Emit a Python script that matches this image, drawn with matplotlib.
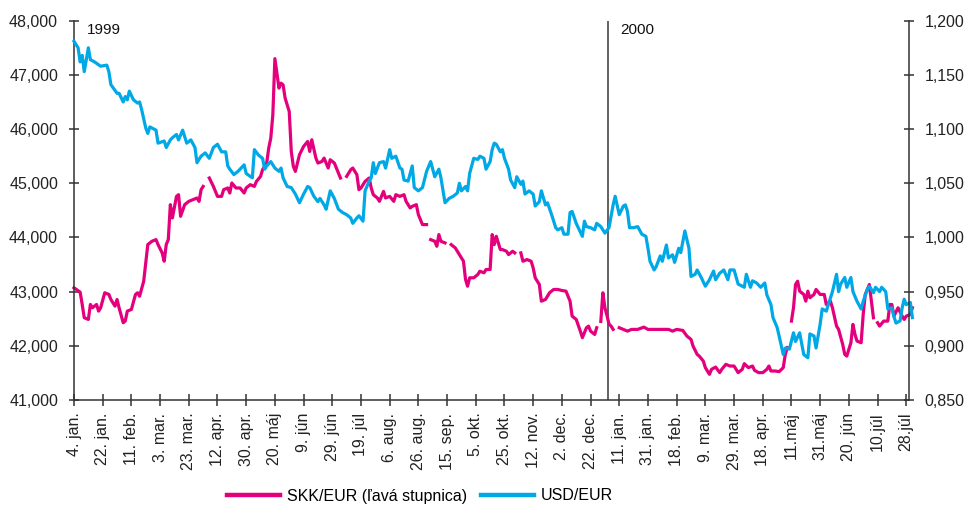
import numpy as np
import matplotlib
matplotlib.use("Agg")
import matplotlib.pyplot as plt

plt.rcParams['font.family'] = ['Liberation Sans', 'DejaVu Sans']

nan = np.nan

# trading-day index (0 = 4 Jan 1999) and SKK/EUR values
skk_day = [0, 3, 4, 5, 7, 8, 9, 11, 12, 13,
           15, 17, 18, 20, 21, 22, 24, 25, 26, 28,
           30, 31, 32, 34, 36, 38, 40, 41, 43, 44,
           45, 46, 47, 48, 50, 51, 52, 54, 56, 58,
           60, 61, 62, 63, 64, 66, 68, 70, 72, 73,
           75, 76, 77, 79, 81, 83, 84, 86, 88, 89,
           91, 92, 94, 95, 96, 97, 98, 100, 101, 102,
           103, 105, 106, 107, 108, 110, 112, 114, 115, 116,
           118, 119, 121, 122, 124, 125, 127, 128, 130, 131,
           133, 135, 136, 138, 139, 140, 142, 144, 145, 146,
           148, 149, 151, 152, 154, 156, 157, 159, 161, 162,
           164, 165, 167, 168, 170, 172, 173, 174, 176, 177,
           178, 179, 181, 182, 184, 186, 188, 190, 191, 192,
           193, 195, 197, 198, 200, 201, 203, 204, 205, 206,
           208, 209, 211, 212, 214, 215, 216, 218, 219, 221,
           223, 224, 225, 227, 228, 230, 232, 234, 236, 238,
           240, 242, 243, 244, 245, 247, 248, 250, 251, 252,
           254, 255, 256, 257, 258, 259, 260, 261, 262, 263,
           264, 266, 268, 270, 272, 275, 278, 280, 283, 287,
           290, 292, 294, 297, 299, 301, 302, 304, 305, 307,
           308, 310, 311, 313, 315, 316, 318, 320, 322, 324,
           326, 327, 329, 331, 332, 334, 336, 338, 339, 340,
           342, 344, 346, 347, 348, 349, 350, 351, 352, 353,
           354, 356, 357, 358, 359, 361, 362, 364, 366, 367,
           369, 370, 372, 373, 375, 376, 377, 379, 380, 381,
           382, 384, 385, 386, 388, 389, 390, 391, 392, 393,
           395, 397, 398, 399, 400, 402, 404, 405, 406, 408,
           409]
skk_val = [43071, 42990, 42763, 42518, 42487, 42763, 42702, 42763, 42640, 42702,
           42979, 42948, 42855, 42732, 42855, 42702, 42426, 42456, 42640, 42671,
           42948, 42979, 42916, 43192, 43868, 43929, 43960, 43868, 43715, 43561,
           43868, 43960, 44605, 44360, 44758, 44789, 44390, 44605, 44666, 44697,
           44728, 44666, 44881, 44942, nan, 45097, 44942, 44758, 44758, 44881,
           44913, 44820, 45005, 44913, 44913, 44820, 44913, 44974, 44942, 45034,
           45126, 45250, 45373, 45650, 45834, 46263, 47300, 46755, 46847, 46816,
           46571, 46324, 45587, 45311, 45219, 45526, 45679, 45771, 45587, 45803,
           45465, 45373, 45403, 45465, 45281, 45434, 45373, 45281, 45097, nan,
           45127, 45250, 45281, 45158, 44881, 44913, 45034, 45097, 44913, 44789,
           44728, 44666, 44850, 44728, 44758, 44666, 44789, 44758, 44789, 44666,
           44544, 44574, 44605, 44421, 44237, 44237, nan, 43960, 43929, 43837,
           44053, 43929, 43899, nan, 43868, 43807, 43684, 43561, 43224, 43100,
           43255, 43255, 43316, 43377, 43347, 43408, 43408, 44053, 43868, 44021,
           43776, 43776, 43745, 43684, 43745, 43715, nan, 43715, 43561, 43592,
           43561, 43439, 43255, 43132, 42824, 42855, 42979, 43040, 43040, 43021,
           43009, 42824, 42548, 42518, 42487, 42271, 42150, 42334, 42364, 42271,
           42210, 42334, nan, 42450, 42979, 42700, 42560, 42400, 42364, 42303,
           nan, 42334, 42303, 42271, 42303, 42303, 42345, 42303, 42303, 42303,
           42303, 42271, 42303, 42284, 42180, 42118, 41995, 41842, 41811, 41719,
           41597, 41474, 41566, 41608, 41505, 41566, 41658, 41627, 41627, 41505,
           41566, 41671, 41597, 41627, 41547, 41505, 41505, 41566, 41627, 41535,
           41535, 41524, 41597, 41842, 41966, nan, 42456, 42702, 43132, 43192,
           43009, 42948, 42824, 43009, 42887, 42948, 43040, 42948, 42948, 42763,
           42824, 42702, 42364, 42303, 42026, 41842, 41811, 42057, 42395, 42210,
           42087, 42057, 42579, 42948, 43132, 42824, 42518, nan, 42426, 42364,
           42456, 42456, 42763, 42763, 42548, 42702, 42548, 42487, 42548, 42579,
           42702]

# trading-day index and USD/EUR values
usd_day = [0, 2, 3, 4, 5, 7, 8, 10, 13, 16,
           17, 18, 21, 22, 24, 25, 26, 27, 29, 31,
           32, 33, 35, 36, 37, 40, 41, 44, 45, 47,
           48, 50, 51, 53, 55, 57, 59, 60, 62, 64,
           66, 68, 70, 72, 74, 75, 76, 78, 80, 81,
           83, 84, 87, 88, 90, 92, 93, 94, 96, 98,
           100, 101, 102, 104, 106, 108, 110, 112, 114, 115,
           117, 119, 120, 122, 123, 125, 127, 129, 131, 133,
           135, 136, 138, 139, 141, 142, 144, 145, 146, 147,
           149, 151, 152, 154, 155, 157, 159, 160, 161, 163,
           165, 166, 168, 170, 172, 174, 176, 178, 179, 181,
           183, 185, 187, 188, 189, 191, 192, 193, 195, 197,
           198, 200, 201, 203, 204, 205, 206, 208, 209, 210,
           212, 213, 215, 216, 218, 219, 220, 222, 224, 225,
           227, 228, 230, 231, 233, 235, 236, 238, 239, 241,
           242, 243, 245, 246, 248, 249, 250, 252, 254, 255,
           257, 258, 259, 261, 263, 264, 266, 268, 269, 270,
           271, 273, 275, 277, 279, 280, 281, 283, 284, 286,
           287, 289, 290, 292, 293, 295, 296, 298, 300, 301,
           303, 304, 306, 308, 310, 312, 313, 315, 317, 319,
           320, 322, 324, 326, 327, 328, 330, 331, 333, 335,
           337, 338, 340, 341, 343, 344, 346, 347, 349, 351,
           352, 354, 356, 358, 359, 361, 362, 364, 365, 367,
           368, 370, 372, 373, 374, 376, 377, 379, 380, 382,
           384, 385, 387, 388, 390, 391, 393, 394, 396, 397,
           399, 400, 401, 403, 404, 405, 406, 408, 409]
usd_rate = [1.181, 1.175, 1.162, 1.168, 1.153, 1.175, 1.164, 1.162, 1.158, 1.159,
            1.153, 1.141, 1.133, 1.133, 1.125, 1.130, 1.127, 1.135, 1.127, 1.124,
            1.125, 1.118, 1.101, 1.096, 1.102, 1.099, 1.087, 1.089, 1.083, 1.090,
            1.092, 1.095, 1.090, 1.099, 1.087, 1.090, 1.083, 1.069, 1.075, 1.078,
            1.073, 1.083, 1.086, 1.079, 1.079, 1.066, 1.063, 1.058, 1.061, 1.063,
            1.067, 1.059, 1.055, 1.081, 1.076, 1.073, 1.063, 1.066, 1.070, 1.064,
            1.061, 1.064, 1.055, 1.047, 1.046, 1.040, 1.032, 1.040, 1.047, 1.046,
            1.038, 1.033, 1.036, 1.030, 1.026, 1.043, 1.036, 1.026, 1.023, 1.021,
            1.018, 1.013, 1.018, 1.020, 1.015, 1.043, 1.052, 1.055, 1.069, 1.059,
            1.069, 1.070, 1.064, 1.081, 1.073, 1.075, 1.064, 1.063, 1.053, 1.052,
            1.066, 1.046, 1.043, 1.046, 1.061, 1.070, 1.056, 1.063, 1.055, 1.032,
            1.036, 1.038, 1.041, 1.050, 1.043, 1.047, 1.043, 1.059, 1.073, 1.072,
            1.075, 1.073, 1.063, 1.070, 1.081, 1.087, 1.086, 1.079, 1.081, 1.073,
            1.063, 1.053, 1.046, 1.056, 1.049, 1.052, 1.040, 1.043, 1.040, 1.029,
            1.033, 1.043, 1.030, 1.032, 1.021, 1.009, 1.007, 1.009, 1.003, 1.003,
            1.023, 1.024, 1.013, 1.009, 1.001, 1.015, 1.010, 1.009, 1.007, 1.013,
            1.010, 1.007, 1.004, 1.009, 1.030, 1.038, 1.021, 1.029, 1.030, 1.024,
            1.009, 1.009, 1.010, 1.003, 1.001, 0.990, 0.978, 0.970, 0.973, 0.983,
            0.978, 0.993, 0.981, 0.984, 0.977, 0.990, 0.986, 1.006, 0.990, 0.964,
            0.966, 0.970, 0.963, 0.955, 0.961, 0.969, 0.961, 0.967, 0.970, 0.961,
            0.970, 0.970, 0.957, 0.955, 0.954, 0.966, 0.954, 0.960, 0.958, 0.954,
            0.958, 0.947, 0.938, 0.926, 0.917, 0.909, 0.892, 0.898, 0.897, 0.912,
            0.904, 0.912, 0.892, 0.889, 0.911, 0.909, 0.898, 0.920, 0.934, 0.932,
            0.938, 0.950, 0.966, 0.950, 0.957, 0.963, 0.954, 0.963, 0.950, 0.941,
            0.934, 0.941, 0.952, 0.955, 0.949, 0.954, 0.950, 0.954, 0.950, 0.934,
            0.935, 0.927, 0.921, 0.923, 0.935, 0.943, 0.938, 0.940, 0.926]

xtick_labels = ['4. jan.', '22. jan.', '11. feb.', '3. mar.', '23. mar.', '12. apr.',
                '30. apr.', '20. máj', '9. jún', '29. jún', '19. júl', '6. aug.',
                '26. aug.', '15. sep.', '5. okt.', '25. okt.', '12. nov.', '2. dec.',
                '22. dec.', '11. jan.', '31. jan.', '18. feb.', '9. mar.', '29. mar.',
                '18. apr.', '11.máj', '31.máj', '20. jún', '10.júl', '28.júl']
left_ticks = [41000, 42000, 43000, 44000, 45000, 46000, 47000, 48000]
right_ticks = [0.85, 0.90, 0.95, 1.00, 1.05, 1.10, 1.15, 1.20]
year_start_2000 = 260.5
series_labels = ['SKK/EUR (ľavá stupnica)', 'USD/EUR']

MAG = '#E4007C'
CYAN = '#00A9E6'
AXC = '#333333'

fig = plt.figure(figsize=(9.66, 5.07), dpi=100)
ax = fig.add_axes([74 / 966, 1 - 400 / 507, (908.7 - 74) / 966, (400 - 20.7) / 507])
ax2 = ax.twinx()

l1, = ax.plot(skk_day, skk_val, color=MAG, lw=2.3, clip_on=False)
l2, = ax2.plot(usd_day, usd_rate, color=CYAN, lw=2.3, clip_on=False)

ax.axvline(year_start_2000, color='#555555', lw=1.3, zorder=1)

ax.set_xlim(0, 407.2)
ax.set_ylim(41000, 48000)
ax2.set_ylim(0.85, 1.20)

ticks = list(range(0, 14 * len(xtick_labels), 14))
ax.set_xticks(ticks)
ax.set_xticklabels(xtick_labels, rotation=90, fontsize=11.5, color='#222222')
ax.set_yticks(left_ticks)
ax.set_yticklabels([f'{v:,}' for v in left_ticks], fontsize=11.5, color='#222222')
ax2.set_yticks(right_ticks)
ax2.set_yticklabels([f'{v:.3f}'.replace('.', ',') for v in right_ticks], fontsize=11.5,
                    color='#222222')

for a in (ax, ax2):
    a.spines['top'].set_visible(False)
    for s in a.spines.values():
        s.set_color(AXC)
        s.set_linewidth(1.1)
ax2.spines['left'].set_visible(False)
ax2.spines['bottom'].set_visible(False)
ax.spines['right'].set_visible(False)

ax.tick_params(axis='y', direction='inout', length=7, width=1.1, color=AXC, pad=8)
ax2.tick_params(axis='y', direction='inout', length=7, width=1.1, color=AXC, pad=8)
ax.tick_params(axis='x', direction='inout', length=8, width=1.1, color=AXC, pad=5)

fig.text(87 / 966, 1 - 30 / 507, '1999', fontsize=11, va='center', ha='left', color='#111111')
fig.text(620 / 966, 1 - 30 / 507, '2000', fontsize=11, va='center', ha='left', color='#111111')

fig.legend([l1, l2], series_labels, loc='center', bbox_to_anchor=(420 / 966, 1 - 496 / 507),
           ncol=2, frameon=False, fontsize=11.5, handlelength=3.3, handletextpad=0.45,
           columnspacing=0.9)
for line in fig.legends[0].get_lines():
    line.set_linewidth(3.2)

fig.savefig('out.png', dpi=100)
